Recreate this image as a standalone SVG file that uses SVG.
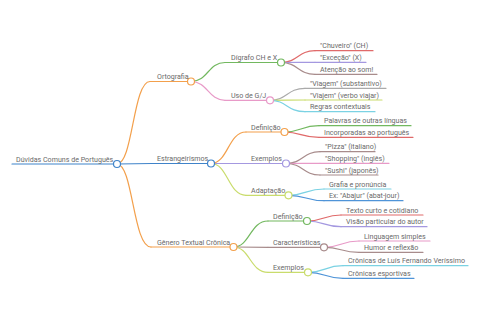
<svg xmlns="http://www.w3.org/2000/svg" width="480" height="320" viewBox="0 0 480 320">
<style>
text{font-family:Roboto,"Liberation Sans",sans-serif;font-size:7.1px;font-weight:400;fill:#6a6a6a}
path,line{fill:none;stroke-width:1.2;stroke-linecap:round}
circle{fill:#fff;stroke-width:1.2}
.bl{stroke:#3f83c9}.or{stroke:#f3a04c}.gr{stroke:#72b85f}.pk{stroke:#e89ac8}.rd{stroke:#e06a6a}
.pu{stroke:#a498e0}.mv{stroke:#a88c8c}.gy{stroke:#aaaaaa}.yg{stroke:#c9dc6c}.cy{stroke:#7bd2e3}.lb{stroke:#4f94d8}
</style>
<rect width="480" height="320" fill="#fff"/>
<g id="connectors">
<path class="or" d="M117 164 C133 164 133 81.5 150 81.5"/>
<path class="bl" d="M117 164 L152 163.5"/>
<path class="or" d="M117 164 C133 164 133 247 151 247"/>
<path class="gr" d="M191 81.5 C208 81.5 208 62.5 225 62.5"/>
<path class="pk" d="M191 81.5 C208 81.5 208 100.3 225 100.3"/>
<path class="or" d="M211 163.5 C228 163.5 228 132 246 132"/>
<path class="pu" d="M211 163.5 L246 163.5"/>
<path class="yg" d="M211 163.5 C228 163.5 228 195.3 246 195.3"/>
<path class="gr" d="M233.5 247 C250 247 250 221 268 221"/>
<path class="mv" d="M233.5 247 L268 247.3"/>
<path class="yg" d="M233.5 247 C250 247 250 272.3 268 272.3"/>
<path class="rd" d="M281 62.5 C298 62.5 298 50.7 315 50.7"/>
<path class="pu" d="M281 62.5 C298 62.5 298 62.3 315 62.3"/>
<path class="mv" d="M281 62.5 C298 62.5 298 74.3 315 74.3"/>
<path class="gy" d="M270 100.3 C287 100.3 287 88.3 305 88.3"/>
<path class="yg" d="M270 100.3 C287 100.3 287 100 305 100"/>
<path class="cy" d="M270 100.3 C287 100.3 287 111.7 305 111.7"/>
<path class="gr" d="M284.5 132 C301 132 301 125.7 319 125.7"/>
<path class="rd" d="M284.5 132 C301 132 301 137.3 319 137.3"/>
<path class="mv" d="M286 163.5 C303 163.5 303 151.7 320 151.7"/>
<path class="pk" d="M286 163.5 C303 163.5 303 163.3 320 163.3"/>
<path class="mv" d="M286 163.5 C303 163.5 303 175 320 175"/>
<path class="cy" d="M288.5 195.3 C306 195.3 306 189 324 189"/>
<path class="lb" d="M288.5 195.3 C306 195.3 306 200.7 324 200.7"/>
<path class="rd" d="M307 221 C324 221 324 215 341 215"/>
<path class="pu" d="M307 221 C324 221 324 226.7 341 226.7"/>
<path class="pk" d="M324 247.3 C341 247.3 341 241 359 241"/>
<path class="mv" d="M324 247.3 C341 247.3 341 252.3 359 252.3"/>
<path class="cy" d="M308 272.3 C325 272.3 325 265.7 343 265.7"/>
<path class="lb" d="M308 272.3 C325 272.3 325 278.3 343 278.3"/>
</g>
<g id="root"><line class="bl" x1="12" y1="164" x2="117" y2="164" stroke-width="1.6"/><circle class="bl" cx="117" cy="164" r="3.5"/><text x="16" y="161.5">Dúvidas Comuns de Português</text></g>
<g id="ortografia"><line class="or" x1="150" y1="81.5" x2="191" y2="81.5"/><circle class="or" cx="191" cy="81.5" r="3.5"/><text x="157" y="79">Ortografia</text></g>
<g id="estrangeirismos"><line class="bl" x1="152" y1="163.5" x2="211" y2="163.5"/><circle class="bl" cx="211" cy="163.5" r="3.5"/><text x="157" y="161">Estrangeirismos</text></g>
<g id="genero"><line class="or" x1="151" y1="247" x2="233.5" y2="247"/><circle class="or" cx="233.5" cy="247" r="3.5"/><text x="157" y="244.5">Gênero Textual Crônica</text></g>
<g id="digrafo"><line class="gr" x1="225" y1="62.5" x2="281" y2="62.5"/><circle class="gr" cx="281" cy="62.5" r="3.5"/><text x="231" y="60">Dígrafo CH e X</text></g>
<g id="usogj"><line class="pk" x1="225" y1="100.3" x2="270" y2="100.3"/><circle class="pk" cx="270" cy="100.3" r="3.5"/><text x="231" y="97.8">Uso de G/J</text></g>
<g id="est-definicao"><line class="or" x1="246" y1="132" x2="284.5" y2="132"/><circle class="or" cx="284.5" cy="132" r="3.5"/><text x="251" y="129.5">Definição</text></g>
<g id="est-exemplos"><line class="pu" x1="246" y1="163.5" x2="286" y2="163.5"/><circle class="pu" cx="286" cy="163.5" r="3.5"/><text x="251" y="161">Exemplos</text></g>
<g id="est-adaptacao"><line class="yg" x1="246" y1="195.3" x2="288.5" y2="195.3"/><circle class="yg" cx="288.5" cy="195.3" r="3.5"/><text x="251" y="192.8">Adaptação</text></g>
<g id="gen-definicao"><line class="gr" x1="268" y1="221" x2="307" y2="221"/><circle class="gr" cx="307" cy="221" r="3.5"/><text x="273" y="218.5">Definição</text></g>
<g id="gen-caracteristicas"><line class="mv" x1="268" y1="247.3" x2="324" y2="247.3"/><circle class="mv" cx="324" cy="247.3" r="3.5"/><text x="273" y="244.8">Características</text></g>
<g id="gen-exemplos"><line class="yg" x1="268" y1="272.3" x2="308" y2="272.3"/><circle class="yg" cx="308" cy="272.3" r="3.5"/><text x="273" y="269.8">Exemplos</text></g>
<g id="leaves">
<g id="l1"><line class="rd" x1="315" y1="50.7" x2="373" y2="50.7"/><text x="320" y="48.2">"Chuveiro" (CH)</text></g>
<g id="l2"><line class="pu" x1="315" y1="62.3" x2="366" y2="62.3"/><text x="320" y="59.8">"Exceção" (X)</text></g>
<g id="l3"><line class="mv" x1="315" y1="74.3" x2="377" y2="74.3"/><text x="320" y="71.8">Atenção ao som!</text></g>
<g id="l4"><line class="gy" x1="305" y1="88.3" x2="386" y2="88.3"/><text x="310" y="85.8">"Viagem" (substantivo)</text></g>
<g id="l5"><line class="yg" x1="305" y1="100" x2="382" y2="100"/><text x="310" y="97.5">"Viajem" (verbo viajar)</text></g>
<g id="l6"><line class="cy" x1="305" y1="111.7" x2="375" y2="111.7"/><text x="310" y="109.2">Regras contextuais</text></g>
<g id="l7"><line class="gr" x1="319" y1="125.7" x2="411" y2="125.7"/><text x="324" y="123.2">Palavras de outras línguas</text></g>
<g id="l8"><line class="rd" x1="319" y1="137.3" x2="413" y2="137.3"/><text x="324" y="134.8">Incorporadas ao português</text></g>
<g id="l9"><line class="mv" x1="320" y1="151.7" x2="375" y2="151.7"/><text x="325" y="149.2">"Pizza" (italiano)</text></g>
<g id="l10"><line class="pk" x1="320" y1="163.3" x2="389" y2="163.3"/><text x="325" y="160.8">"Shopping" (inglês)</text></g>
<g id="l11"><line class="mv" x1="320" y1="175" x2="378" y2="175"/><text x="325" y="172.5">"Sushi" (japonês)</text></g>
<g id="l12"><line class="cy" x1="324" y1="189" x2="391" y2="189"/><text x="329" y="186.5">Grafia e pronúncia</text></g>
<g id="l13"><line class="lb" x1="324" y1="200.7" x2="403" y2="200.7"/><text x="329" y="198.2">Ex: "Abajur" (abat-jour)</text></g>
<g id="l14"><line class="rd" x1="341" y1="215" x2="423" y2="215"/><text x="346" y="212.5">Texto curto e cotidiano</text></g>
<g id="l15"><line class="pu" x1="341" y1="226.7" x2="427" y2="226.7"/><text x="346" y="224.2">Visão particular do autor</text></g>
<g id="l16"><line class="pk" x1="359" y1="241" x2="430" y2="241"/><text x="364" y="238.5">Linguagem simples</text></g>
<g id="l17"><line class="mv" x1="359" y1="252.3" x2="423" y2="252.3"/><text x="364" y="249.8">Humor e reflexão</text></g>
<g id="l18"><line class="cy" x1="343" y1="265.7" x2="468" y2="265.7"/><text x="348" y="263.2">Crônicas de Luís Fernando Veríssimo</text></g>
<g id="l19"><line class="lb" x1="343" y1="278.3" x2="414" y2="278.3"/><text x="348" y="275.8">Crônicas esportivas</text></g>
</g>
</svg>
